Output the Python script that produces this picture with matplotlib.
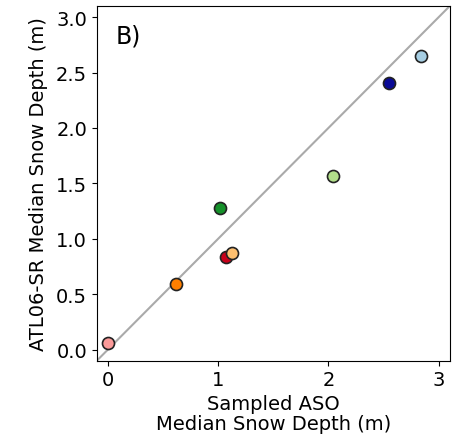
import numpy as np
import matplotlib
matplotlib.use('Agg')
import matplotlib.pyplot as plt

aso_med = [0.00, 0.62, 1.07, 1.13, 1.02, 2.04, 2.55, 2.84]
atl06_med = [0.06, 0.59, 0.84, 0.87, 1.28, 1.57, 2.41, 2.65]
cores = ['#fb9a99', '#ff7f00', '#c8001a', '#fdbf6f', '#15912a', '#b2df8a', '#0a0a96', '#a6cee3']

lims = [-0.1, 3.1]

fig = plt.figure(figsize=(4.62, 4.39), dpi=100)
ax = fig.add_axes([0.2095, 0.176, 0.764, 0.808])

ax.plot(lims, lims, color='#aaaaaa', lw=1.5, zorder=1)
for x, y, c in zip(aso_med, atl06_med, cores):
    ax.scatter(x, y, s=75, color=c, edgecolor='#222222', linewidth=1.2, zorder=3)

ax.set_xlim(lims)
ax.set_ylim(lims)
ax.set_xticks([0, 1, 2, 3])
ax.set_yticks(np.arange(0, 3.01, 0.5))
ax.tick_params(labelsize=14)
ax.set_xlabel('Sampled ASO\nMedian Snow Depth (m)', fontsize=14, labelpad=3, linespacing=1.1)
ax.set_ylabel('ATL06-SR Median Snow Depth (m)', fontsize=14, labelpad=6)
ax.text(0.054, 0.898, 'B)', transform=ax.transAxes, fontsize=17)

plt.savefig('out.png', dpi=100)
